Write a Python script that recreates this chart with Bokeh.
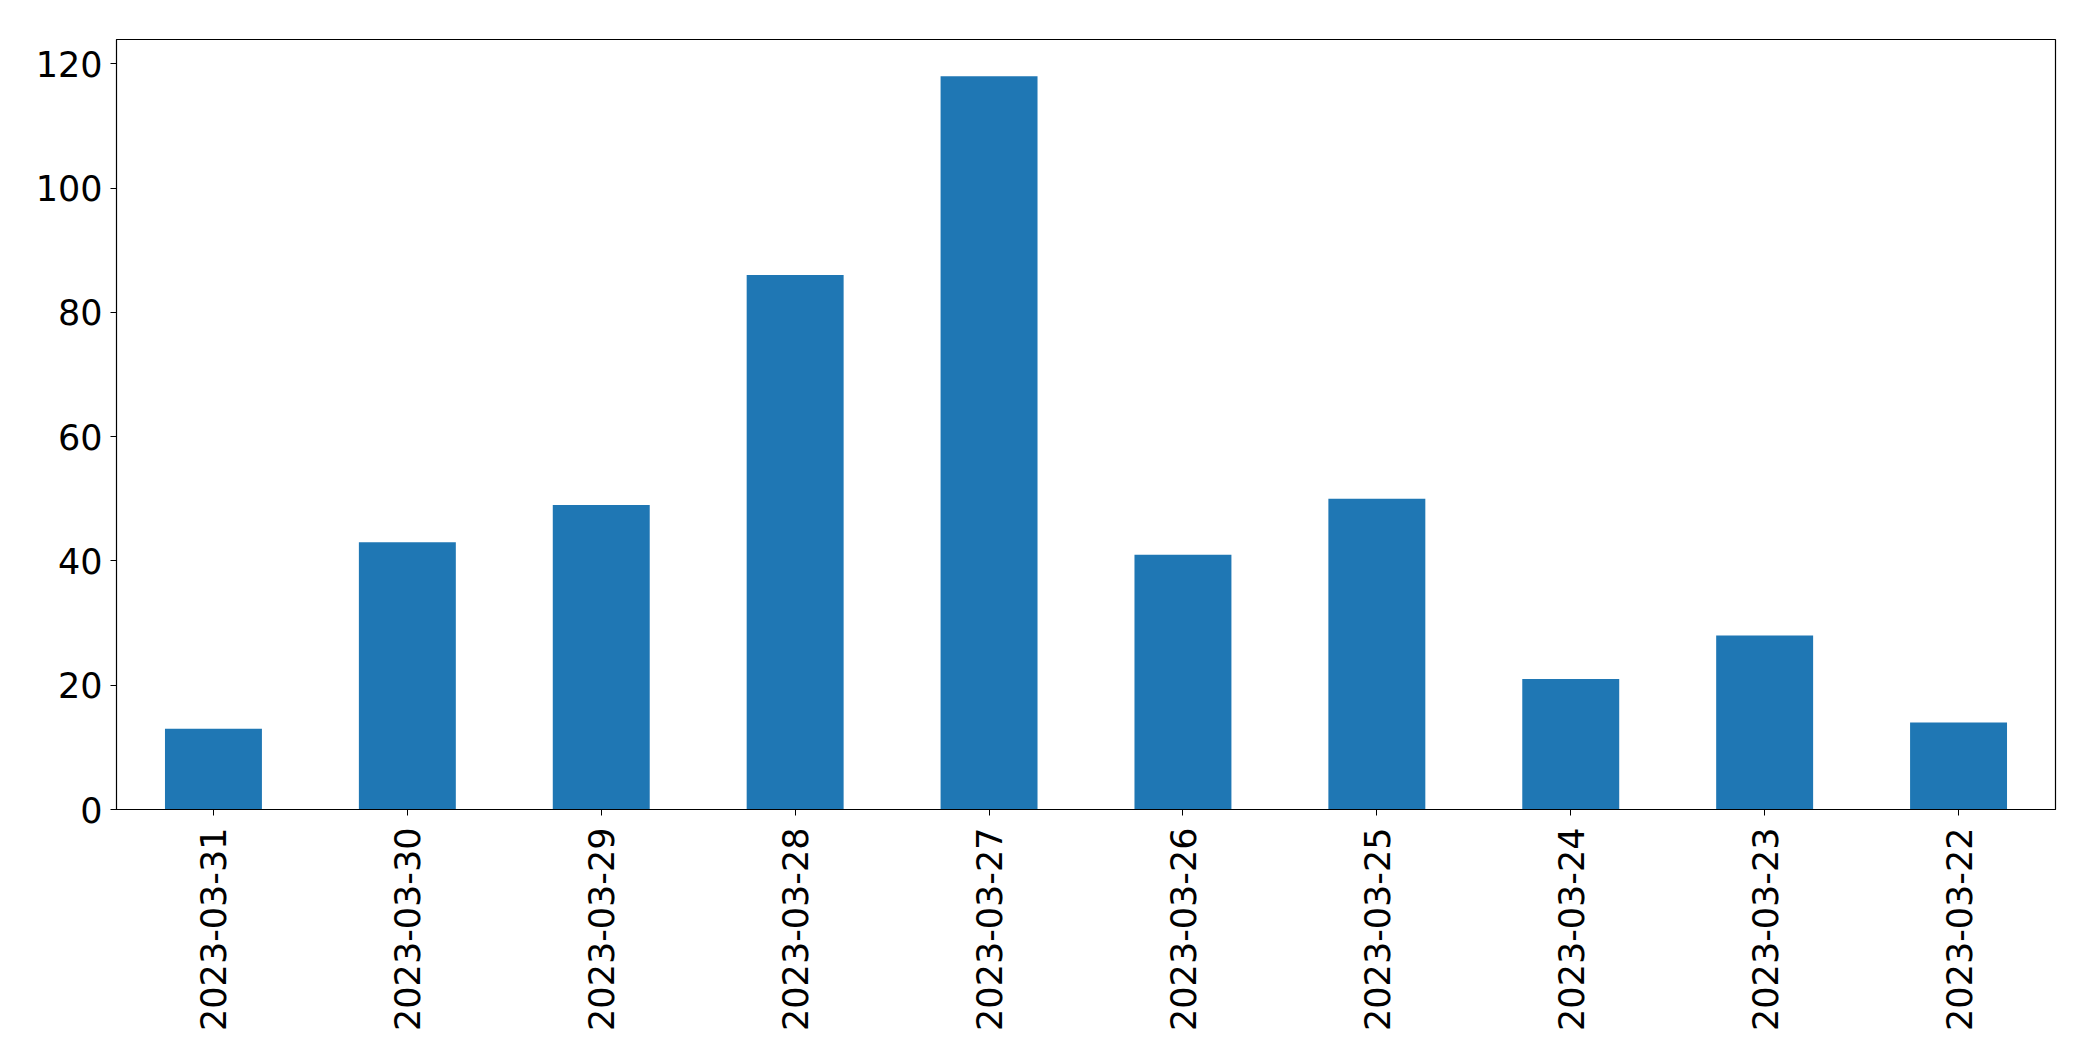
import math
from bokeh.plotting import figure
from bokeh.models import FactorRange, Range1d, FixedTicker, ColumnDataSource
from bokeh.embed import file_html
from bokeh.resources import INLINE

dates = ["2023-03-31", "2023-03-30", "2023-03-29", "2023-03-28", "2023-03-27",
         "2023-03-26", "2023-03-25", "2023-03-24", "2023-03-23", "2023-03-22"]
counts = [13, 43, 49, 86, 118, 41, 50, 21, 28, 14]
y_ticks = [0, 20, 40, 60, 80, 100, 120]

src = ColumnDataSource(data=dict(dates=dates, counts=counts))

p = figure(x_range=FactorRange(*dates), y_range=Range1d(0, max(counts) * 1.05),
           frame_width=1939, frame_height=770,
           min_border_left=116, min_border_right=30, min_border_top=39, min_border_bottom=244,
           output_backend="svg", toolbar_location=None)

p.vbar(x="dates", top="counts", width=0.5, source=src, color="#1f77b4", line_color=None)

p.xgrid.visible = False
p.ygrid.visible = False
p.outline_line_color = "black"
p.outline_line_width = 1.2
p.outline_line_alpha = 1

for ax in (p.xaxis[0], p.yaxis[0]):
    ax.axis_line_color = "black"
    ax.major_tick_line_color = "black"
    ax.major_tick_out = 6
    ax.major_tick_in = 0
    ax.minor_tick_line_color = None
    ax.major_label_text_font = "DejaVu Sans"
    ax.major_label_text_font_size = "35px"
    ax.major_label_text_color = "black"

p.yaxis[0].ticker = FixedTicker(ticks=y_ticks)
p.yaxis[0].major_label_standoff = 8
p.xaxis[0].major_label_orientation = math.pi / 2
p.xaxis[0].major_label_standoff = 12

open("out.html", "w").write(file_html(p, INLINE))
